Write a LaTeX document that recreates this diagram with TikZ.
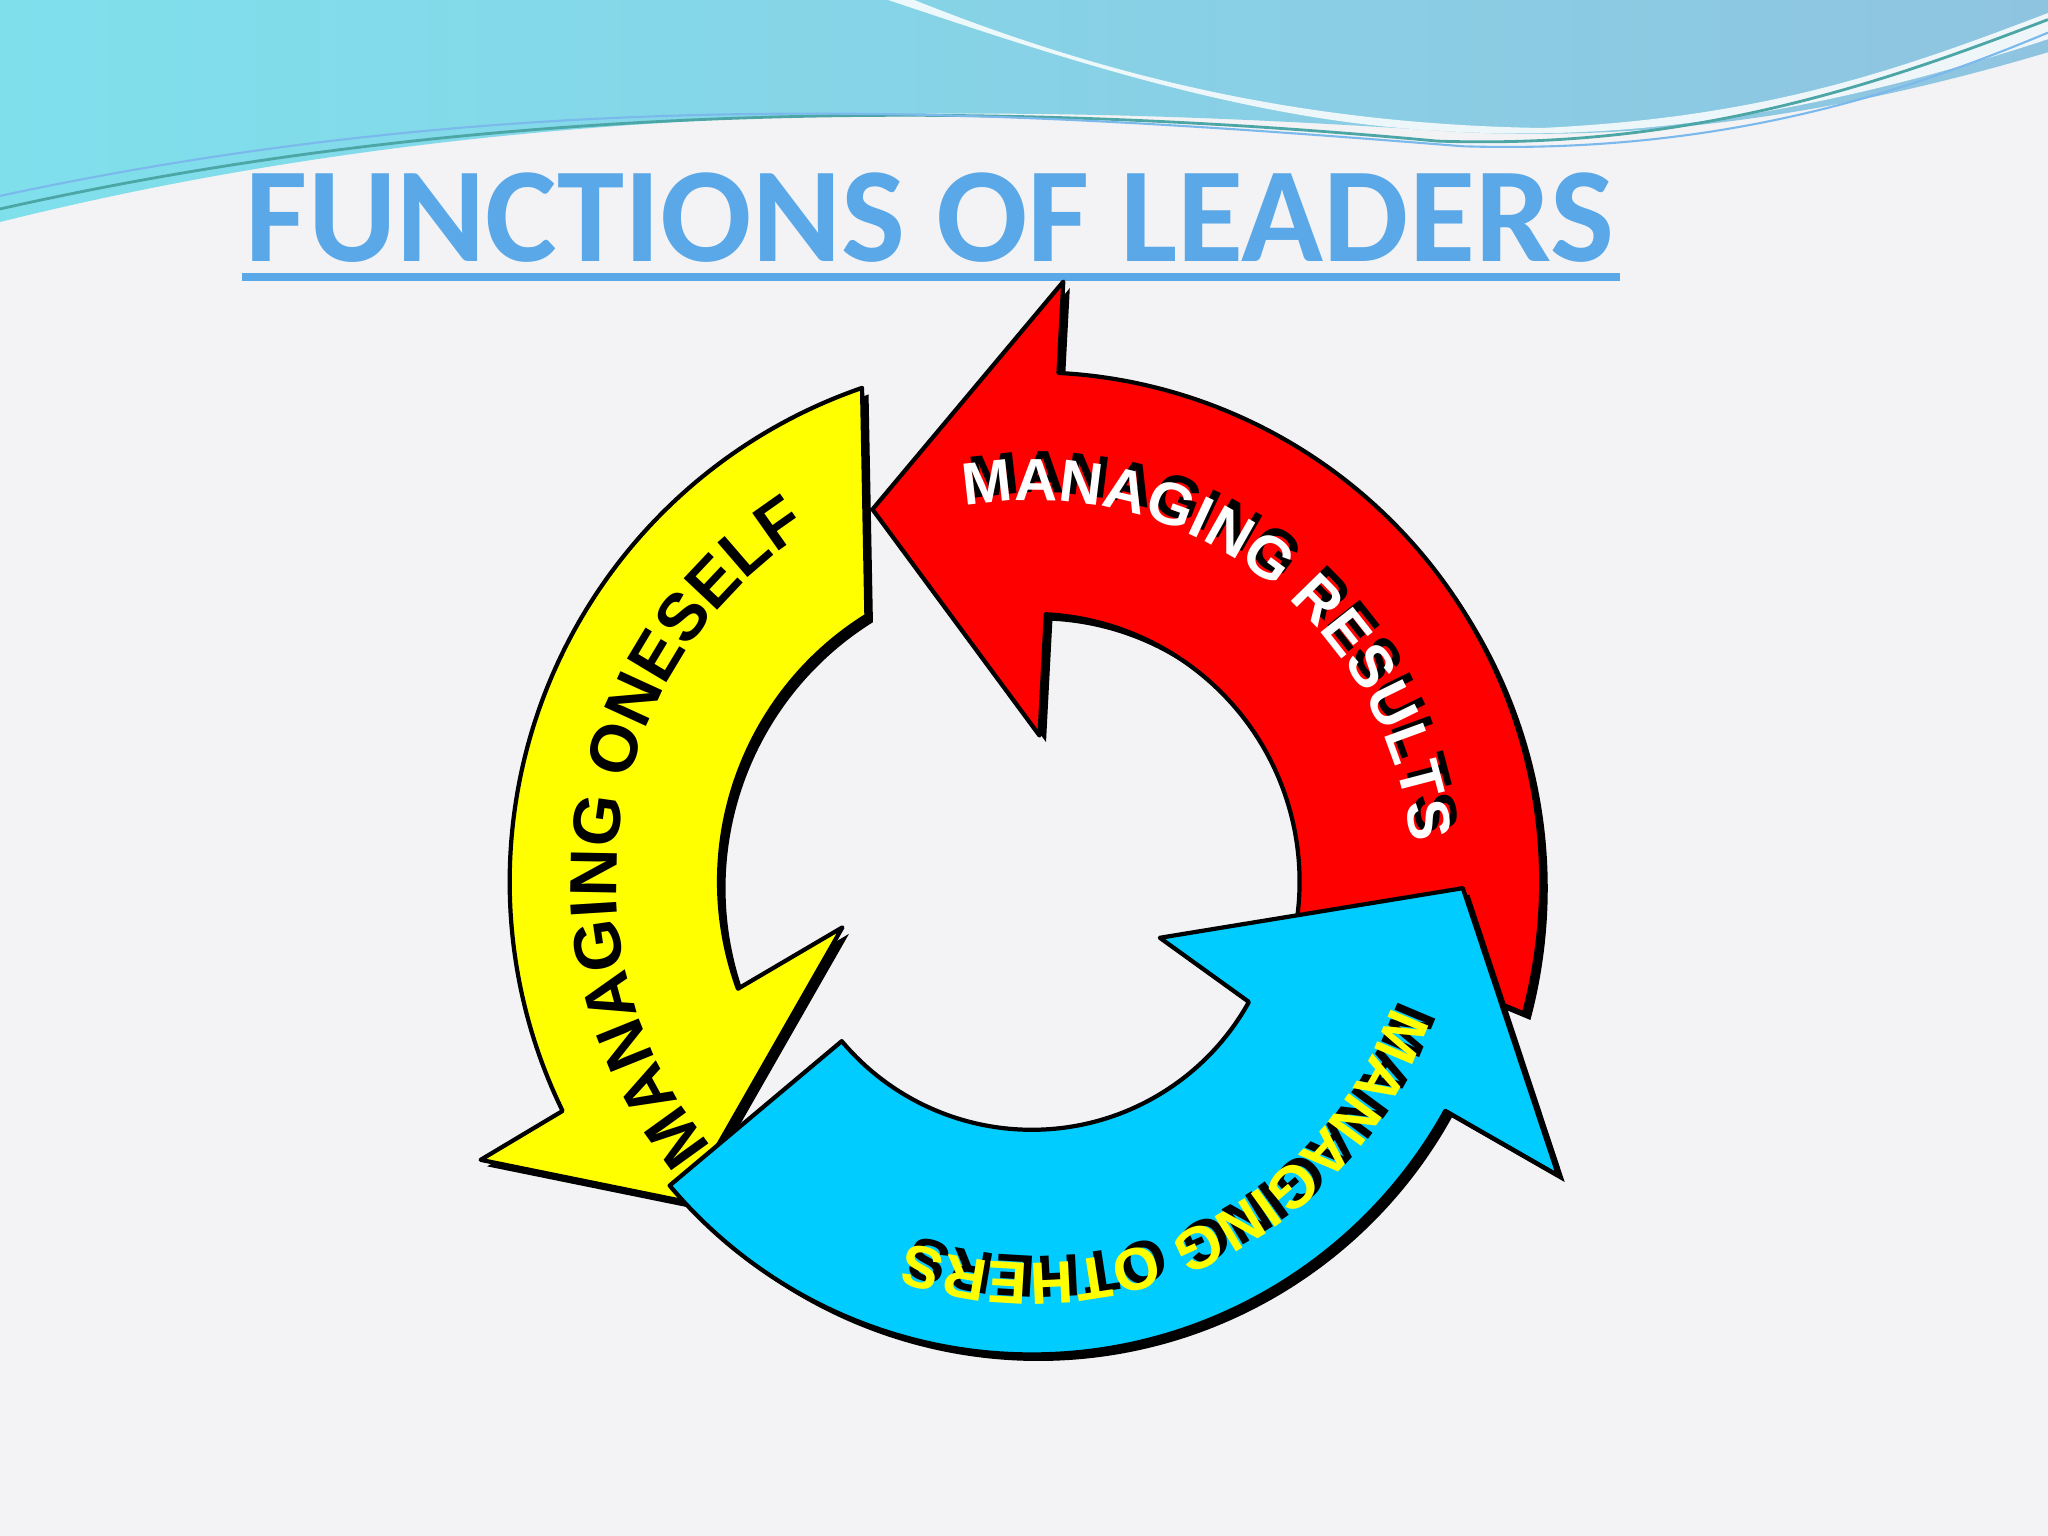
\documentclass[tikz,border=0pt]{standalone}
\usepackage{fontspec}
\setmainfont{Liberation Sans}
\newfontfamily\titlefont{Carlito}
\usetikzlibrary{decorations.text}
\definecolor{bg}{HTML}{F3F3F5}
\definecolor{ttl}{HTML}{5AA8E8}
\definecolor{rd}{HTML}{FF0000}
\definecolor{yl}{HTML}{FFFF00}
\definecolor{bl}{HTML}{00CCFF}
\definecolor{wv1}{HTML}{7FE0EC}
\definecolor{wv2}{HTML}{8FC4E0}
\tikzset{arr/.style={draw=black,line width=1.2pt,line join=round},
  shad/.style={fill=black,shift={(5,5)}},
  arctext/.style={decorate,decoration={text along path,text align=center,text={#1}}}}
\begin{document}
\begin{tikzpicture}[x=0.01306cm,y=-0.01306cm]
\fill[bg] (0,0) rectangle (1568,1176);
\useasboundingbox (0,0) rectangle (1568,1176);
% top wave
\shade[left color=wv1,right color=wv2] (0,0) -- (1568,0) -- (1568,40) .. controls (1400,90) and (1250,110) .. (1100,100) .. controls (800,80) and (400,70) .. (0,170) -- cycle;
\fill[white,opacity=0.85] (700,0) .. controls (850,60) and (1000,95) .. (1180,98) .. controls (1350,90) and (1450,55) .. (1568,10) -- (1568,30) .. controls (1400,85) and (1250,110) .. (1100,100) .. controls (950,92) and (800,40) .. (680,0) -- cycle;
\draw[teal!70,line width=0.8pt] (0,160) .. controls (400,70) and (800,80) .. (1100,108) .. controls (1300,115) and (1450,60) .. (1568,15);
\draw[ttl!80,line width=0.6pt] (0,150) .. controls (420,60) and (780,85) .. (1120,112) .. controls (1320,118) and (1460,70) .. (1568,25);
% title
\node[anchor=base,font=\titlefont\bfseries,text=ttl] (title) at (712,200) {\fontsize{38.5}{40}\selectfont FUNCTIONS OF LEADERS};
\draw[ttl,line width=2.2pt] (185,212) -- (1240,212);
\coordinate (c) at (790,675);
% red arrow
\def\redp{([shift={(c)}]15:390) arc[start angle=15,end angle=-87,radius=390] -- ([shift={(c)}]-87:460) -- (668,390) -- ([shift={(c)}]-87:112) -- ([shift={(c)}]-87:205) arc[start angle=-87,end angle=8,radius=205] -- cycle}
\fill[shad] \redp;
\filldraw[arr,fill=rd] \redp;
% yellow arrow
\def\yelp{(660,297) arc[start angle=-109,end angle=-206,radius=400] -- (368,888) -- (525,920) -- (645,710) -- (565,757) arc[start angle=160,end angle=238,radius=240] -- cycle}
\fill[shad] \yelp;
\filldraw[arr,fill=yl] \yelp;
% blue arrow
\def\blup{([shift={(c)}]140:362) arc[start angle=140,end angle=29,radius=362] -- (1193,900) -- (1120,680) -- (888,718) -- ([shift={(c)}]29:190) arc[start angle=29,end angle=140,radius=190] -- cycle}
\fill[shad] \blup;
\filldraw[arr,fill=bl] \blup;
% texts
\path[arctext={|\color{black}\fontsize{17}{17}\selectfont\bfseries|MANAGING RESULTS}] ([shift={(c)},xshift=2,yshift=2]-104:292) arc[start angle=-104,end angle=-2,radius=292];
\path[arctext={|\color{white}\fontsize{17}{17}\selectfont\bfseries|MANAGING RESULTS}] ([shift={(c)}]-104:292) arc[start angle=-104,end angle=-2,radius=292];
\path[arctext={|\color{black}\fontsize{19}{19}\selectfont\bfseries|MANAGING ONESELF}] ([shift={(c)}]140:318) arc[start angle=140,end angle=238,radius=318];
\path[arctext={|\color{black}\fontsize{17}{17}\selectfont\bfseries|MANAGING OTHERS}] ([shift={(c)},xshift=2,yshift=2]18:292) arc[start angle=18,end angle=110,radius=292];
\path[arctext={|\color{yl}\fontsize{17}{17}\selectfont\bfseries|MANAGING OTHERS}] ([shift={(c)}]18:292) arc[start angle=18,end angle=110,radius=292];
\end{tikzpicture}
\end{document}
